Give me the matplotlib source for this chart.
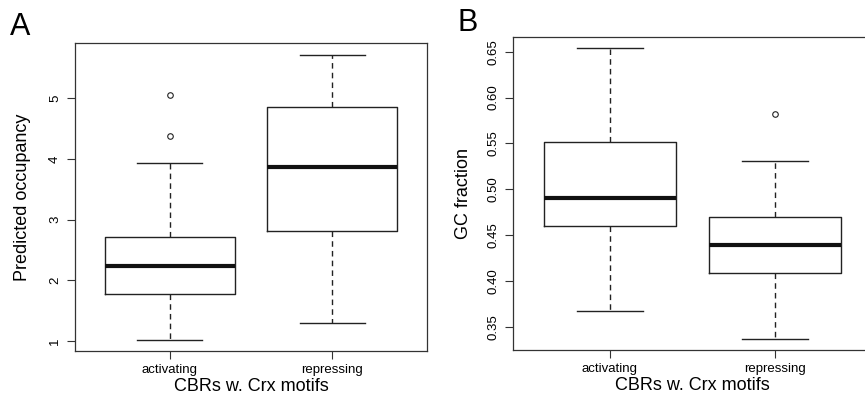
import matplotlib
matplotlib.use("Agg")
import matplotlib.pyplot as plt

plt.rcParams['font.family'] = ['Liberation Sans', 'DejaVu Sans']

# ---- data (R-style boxplot summaries) ----
groups = ['activating', 'repressing']

# panel A: predicted occupancy
occ_whislo = [1.02, 1.30]
occ_q1     = [1.77, 2.82]
occ_med    = [2.24, 3.87]
occ_q3     = [2.71, 4.86]
occ_whishi = [3.94, 5.72]
occ_fliers = [[4.37, 5.06], []]

# panel B: GC fraction
gc_whislo = [0.3675, 0.3366]
gc_q1     = [0.4595, 0.4083]
gc_med    = [0.490, 0.439]
gc_q3     = [0.551, 0.4693]
gc_whishi = [0.6537, 0.531]
gc_fliers = [[], [0.582]]


def stats(lo, q1, med, q3, hi, fl):
    return [dict(label=g, whislo=a, q1=b, med=c, q3=d, whishi=e, fliers=f)
            for g, a, b, c, d, e, f in zip(groups, lo, q1, med, q3, hi, fl)]


def draw(ax, st):
    ax.bxp(st, positions=[1, 2], widths=0.8, showfliers=True,
           boxprops=dict(color='#222222', lw=1.0),
           whiskerprops=dict(color='#222222', lw=1.0, linestyle=(0, (4, 3))),
           capprops=dict(color='#222222', lw=1.0),
           medianprops=dict(color='#111111', lw=3.0, solid_capstyle='butt'),
           flierprops=dict(marker='o', markerfacecolor='none',
                           markeredgecolor='#222222', markersize=4, markeredgewidth=0.8))
    for sp in ax.spines.values():
        sp.set_color('#333333'); sp.set_linewidth(0.9)
    ax.tick_params(axis='both', direction='out', length=6, width=0.8,
                   color='#333333', labelsize=9.5)
    ax.tick_params(axis='y', pad=4)
    ax.set_xlabel('CBRs w. Crx motifs', fontsize=13, labelpad=1)


fig = plt.figure(figsize=(8.65, 3.97), dpi=100)

axA = fig.add_axes([0.0867, 0.1159, 0.4069, 0.7758])
draw(axA, stats(occ_whislo, occ_q1, occ_med, occ_q3, occ_whishi, occ_fliers))
axA.set_xlim(0.415, 2.585)
axA.set_ylim(0.835, 5.91)
axA.set_yticks([1, 2, 3, 4, 5])
axA.set_yticklabels(['1', '2', '3', '4', '5'], rotation=90, va='center')
axA.set_ylabel('Predicted occupancy', fontsize=13, labelpad=13)

axB = fig.add_axes([0.5934, 0.1184, 0.4143, 0.7876])
draw(axB, stats(gc_whislo, gc_q1, gc_med, gc_q3, gc_whishi, gc_fliers))
axB.set_xlim(0.414, 2.586)
axB.set_ylim(0.3246, 0.6657)
ticksB = [0.35, 0.40, 0.45, 0.50, 0.55, 0.60, 0.65]
axB.set_yticks(ticksB)
axB.set_yticklabels([f'{t:.2f}' for t in ticksB], rotation=90, va='center')
axB.set_ylabel('GC fraction', fontsize=13, labelpad=11)

fig.text(0.011, 0.912, 'A', fontsize=22)
fig.text(0.529, 0.922, 'B', fontsize=22)

fig.savefig('out.png', dpi=100)
